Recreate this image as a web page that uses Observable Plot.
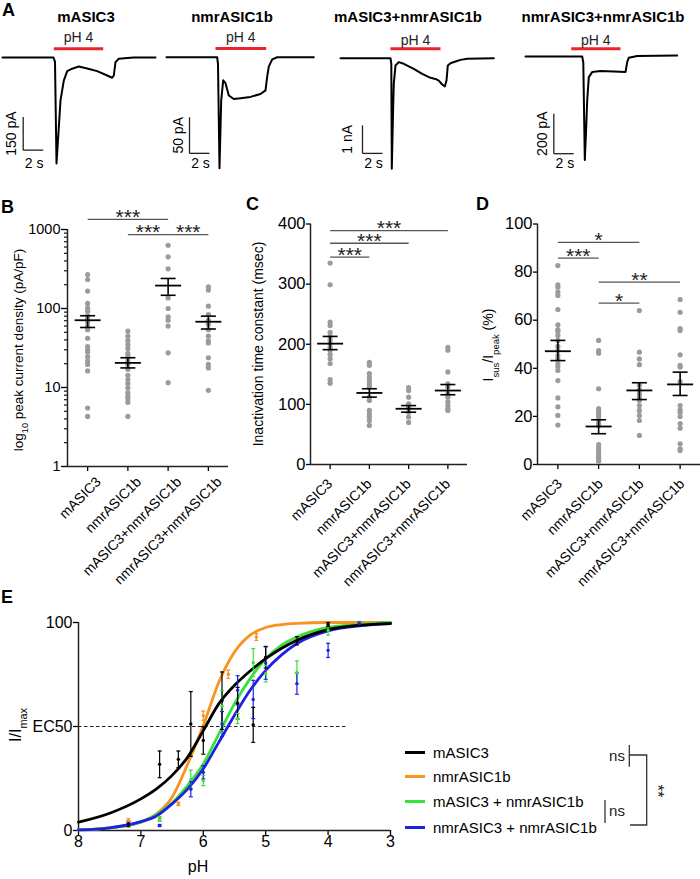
<!DOCTYPE html>
<html><head><meta charset="utf-8">
<script src="https://cdn.jsdelivr.net/npm/d3@7"></script>
<script src="https://cdn.jsdelivr.net/npm/@observablehq/plot@0.6"></script>
<style>
body{margin:0;background:#fff}
#fig{position:relative;width:700px;height:879px;background:#fff;font-family:"Liberation Sans",Arial,Helvetica,sans-serif;color:#000;overflow:hidden}
#fig svg{position:absolute;overflow:visible}
.lbl{position:absolute;line-height:1;white-space:nowrap}
</style></head><body><div id="fig"></div>
<script>
const FONT = '"Liberation Sans", Arial, Helvetica, sans-serif';
const groups = ["mASIC3", "nmrASIC1b", "mASIC3+nmrASIC1b", "nmrASIC3+nmrASIC1b"];

// ---------- Panel A: current traces [time (s), current] ----------
const traceTitles = ["mASIC3", "nmrASIC1b", "mASIC3+nmrASIC1b", "nmrASIC3+nmrASIC1b"];
const traceMASIC3 = [[0,0],[5.1,0],[5.25,-20],[5.4,-482],[5.63,-318],[5.8,-195],[6.13,-105],[6.47,-62],[6.97,-51],[7.63,-41],[8.47,-50],[9.47,-62],[10.47,-82],[10.97,-92],[11.13,-82],[11.3,-21],[11.63,-6],[13.1,0],[15.3,0]];
const traceNmrASIC1b = [[0,0],[5.07,0],[5.15,-10],[5.3,-154],[5.38,-110],[5.47,-60],[5.67,-32],[5.9,-36],[6.23,-53],[6.73,-58],[7.4,-57],[8.4,-55],[9.4,-51],[9.9,-46],[10.07,-27],[10.23,-13],[10.57,-3],[11.07,0],[14.73,0]];
const traceMix = [[0,0],[5.0,0],[5.08,-0.2],[5.13,-3.95],[5.25,-2.0],[5.33,-0.91],[5.5,-0.26],[5.83,-0.14],[6.33,-0.2],[7.33,-0.38],[8.17,-0.56],[9.0,-0.7],[9.5,-0.74],[9.83,-0.8],[10.17,-0.94],[10.43,-1.01],[10.6,-0.8],[10.73,-0.26],[11.0,-0.18],[11.5,-0.12],[12.0,-0.06],[12.67,-0.02],[15.33,0]];
const traceNmrMix = [[0,0],[5.67,0],[5.78,-30],[5.93,-517],[6.05,-380],[6.17,-220],[6.33,-103],[6.67,-78],[7.5,-73],[8.83,-75],[10.0,-78],[10.17,-28],[10.33,-6],[11.17,3],[15.17,5]];
const pulseWindows = [[5.13,10.07],[4.9,9.97],[5.0,10.0],[4.57,9.5]];
const scaleBarAmp = [150, 50, 1, 200];
const scaleBarUnit = ["pA", "pA", "nA", "pA"];
const scaleBarTime = 2;

// ---------- Panel B: peak current density (pA/pF) ----------
const peakMASIC3 = [269,233,166,116,101,92,81,74,67,60,54,42,33,30,28,24.5,21.6,19.6,16.2,5.5,4.3];
const peakNmrASIC1b = [51.6,44.6,39.4,35,31.2,27,24.9,22.2,19.6,17,14.3,12.6,11.2,9.9,8.6,7.7,7.2,6.5,4.3];
const peakMix = [632,451,318,136,100,78.5,71,60,27.5,11.5];
const peakNmrMix = [188,171,107,84,71,63,54,44.6,38.6,36.7,23.8,19.6,17.7,9.2];
const peakMean = [71, 20.5, 195, 68];
const peakSemLow = [57.5, 17.7, 147, 55];
const peakSemHigh = [81, 23.8, 240, 80];
const peakTicks = [1, 10, 100, 1000];
const peakSig = [
  {from: "mASIC3", to: "mASIC3+nmrASIC1b", y: 1340, label: "***"},
  {from: "nmrASIC1b", to: "mASIC3+nmrASIC1b", y: 860, label: "***"},
  {from: "mASIC3+nmrASIC1b", to: "nmrASIC3+nmrASIC1b", y: 860, label: "***"}
];

// ---------- Panel C: inactivation time constant (msec) ----------
const tauMASIC3 = [335,299,237,231,220,213,207,201,195,190,183,176,168,141,135];
const tauNmrASIC1b = [170,165,151,145,140,134,129,112,106.5,90,84,79,73,65];
const tauMix = [128,123,112,101,95,87,79,70];
const tauNmrMix = [195,190,154,134,129,118,112,104,98,93,90];
const tauMean = [201, 119, 92.7, 123];
const tauSemLow = [191, 112, 87, 116];
const tauSemHigh = [213, 126, 98, 133];
const tauTicks = [0, 100, 200, 300, 400];
const tauSig = [
  {from: "mASIC3", to: "nmrASIC3+nmrASIC1b", y: 389, label: "***"},
  {from: "mASIC3", to: "mASIC3+nmrASIC1b", y: 368, label: "***"},
  {from: "mASIC3", to: "nmrASIC1b", y: 345, label: "***"}
];

// ---------- Panel D: Isus/Ipeak (%) ----------
const ratioMASIC3 = [82.7,74.7,73.7,71.7,70.3,64.4,58.1,56.1,55.3,53.6,51.6,49.1,47.4,45.3,43.9,41.9,40.7,39.1,34.9,27.7,24,20.4,16.4];
const ratioNmrASIC1b = [51.6,47.4,46.3,31.5,23.2,22.2,21.5,20.7,19.7,18.3,17.2,16.2,8.3,6.9,5.5,4.4,3.3,2.4,1.4];
const ratioMix = [64,46.7,43.9,41.5,33,31,29.4,28,26.6,24.5,22.5,20.4,18.3,12.1];
const ratioNmrMix = [68.6,63.3,56.5,55.7,45.6,41.2,40.5,34.5,24.5,22.7,21.7,20,17,15.1,8.6,6.5,5.8];
const ratioMean = [47.1, 15.8, 30.8, 33.3];
const ratioSemLow = [43.2, 12.8, 27, 28.7];
const ratioSemHigh = [51.6, 18.6, 34, 38.4];
const ratioTicks = [0, 20, 40, 60, 80, 100];
const ratioSig = [
  {from: "mASIC3", to: "mASIC3+nmrASIC1b", y: 92.4, label: "*"},
  {from: "mASIC3", to: "nmrASIC1b", y: 85.8, label: "***"},
  {from: "nmrASIC1b", to: "nmrASIC3+nmrASIC1b", y: 75.8, label: "**"},
  {from: "nmrASIC1b", to: "mASIC3+nmrASIC1b", y: 67.1, label: "*"}
];

// ---------- Panel E: pH dose response ----------
const seriesNames = ["mASIC3", "nmrASIC1b", "mASIC3 + nmrASIC1b", "nmrASIC3 + nmrASIC1b"];
const seriesColors = ["#000000", "#f7931e", "#3ae03a", "#1e22e0"];
const pHFit = [8, 7.5, 7, 6.75, 6.5, 6.25, 6, 5.75, 5.5, 5.25, 5, 4.75, 4.5, 4, 3.5, 3];
const fitMASIC3 = [4.0, 8.3, 15.2, 20, 26.5, 35.3, 48, 61, 69.8, 76.7, 82.6, 87.5, 91.5, 96.6, 98.7, 99.5];
const fitNmrASIC1b = [0.3, 1.3, 4, 8, 16, 32, 50.5, 71.4, 85.8, 93.9, 97.6, 99, 99.6, 100, 100, 100];
const fitMix = [0.3, 1.3, 4, 7.7, 13.2, 21.7, 32, 46.5, 61, 73, 82.6, 89, 93, 97.6, 99, 100];
const fitNmrMix = [0.3, 1.3, 4.3, 7, 12.8, 20, 29.7, 42.5, 55.4, 67.4, 77, 84.3, 89.9, 96, 98.4, 99.5];
// [pH, mean, sem]
const obsMASIC3 = [[7.2,3.2,1.4],[6.7,31.8,6.4],[6.4,34.2,4],[6.2,51.2,15.6],[6.0,43.3,6.6],[5.7,62.4,13.8],[5.45,61.2,7.6],[5.2,50.8,8.4],[5.0,83.3,5.2],[4.5,91.2,2],[4.0,99,1]];
const obsNmrASIC1b = [[7.2,4.5,1.2],[6.7,5.6,1.1],[6.4,12.8,0.8],[6.0,55.2,2.2],[5.6,75.1,2],[5.15,93,1.6]];
const obsMix = [[6.7,5.5,1],[6.2,24.6,4.4],[6.0,24,2.4],[5.7,59.7,7.6],[5.45,53.8,2.4],[5.2,80.7,6.8],[5.0,75.4,4],[4.5,76,5.5],[4.0,96.3,2.4],[3.5,100,0.5]];
const obsNmrMix = [[7.2,3.2,0.8],[6.7,2.4,0.5],[6.2,19.8,3.6],[6.0,28,3.2],[5.7,51.2,6],[5.45,67.4,7],[5.2,63,9.2],[5.0,80.5,7.8],[4.5,70.6,5.1],[4.0,86.6,3.4],[3.5,99.8,0.5]];
const pHTicks = [8, 7, 6, 5, 4, 3];
const normTicks = [0, 50, 100];
const ec50Level = 50;

// ================= drawing =================
const fig = document.getElementById("fig");
const hbar = {draw(ctx, size) { const r = Math.sqrt(size / Math.PI); ctx.moveTo(-r, 0); ctx.lineTo(r, 0); }};
const baseStyle = {background: "transparent", overflow: "visible", fontFamily: FONT, fontSize: "14px", color: "black"};

function place(el, left, top) { el.style.left = left + "px"; el.style.top = top + "px"; fig.appendChild(el); return el; }
function addText(str, x, baseline, {size = 14, weight = "normal", center = false} = {}) {
  const d = document.createElement("div");
  d.className = "lbl"; d.textContent = str;
  d.style.fontSize = size + "px"; d.style.fontWeight = weight;
  if (center) d.style.transform = "translateX(-50%)";
  place(d, x, baseline - 0.8465 * size);
  return d;
}
function addRotLabel(svg, x, y, parts, size) {
  const t = d3.select(svg).append("text")
    .attr("transform", `translate(${x},${y}) rotate(-90)`)
    .attr("text-anchor", "middle").attr("dy", "0.35em")
    .attr("font-size", size).attr("font-family", FONT).attr("fill", "black");
  for (const [s, sub] of parts) {
    const ts = t.append("tspan").text(s);
    if (sub) ts.attr("baseline-shift", "sub").attr("font-size", size * 0.68);
  }
}

// ---- Panel A ----
const traces = [traceMASIC3, traceNmrASIC1b, traceMix, traceNmrMix];
const traceLayout = [
  {left: 0, width: 160, xd: [-0.2, 15.8], yd: [-559, 168], pulseY: 39.5, pHY: 88.6, barT: 2.07, barTop: -271, ampT: 0.9, timeY: -482, titleX: 86},
  {left: 160, width: 160, xd: [-0.6, 15.4], yd: [-171, 51], pulseY: 12.1, pHY: 27, barT: 2.3, barTop: -83.3, ampT: 1.2, timeY: -147, titleX: 232},
  {left: 335, width: 165, xd: [-0.5, 16.0], yd: [-4.368, 1.346], pulseY: 0.336, pHY: 0.632, barT: 2.2, barTop: -2.40, ampT: 0.7, timeY: -3.76, titleX: 408},
  {left: 515, width: 175, xd: [-1.0, 16.5], yd: [-620, 180], pulseY: 38.5, pHY: 80, barT: 2.83, barTop: -286, ampT: 1.7, timeY: -535, titleX: 603}
];
traces.forEach((data, k) => {
  const L = traceLayout[k], amp = scaleBarAmp[k], pulse = pulseWindows[k];
  const bar = [
    {x1: L.barT, x2: L.barT, y1: L.barTop, y2: L.barTop - amp},
    {x1: L.barT, x2: L.barT + scaleBarTime, y1: L.barTop - amp, y2: L.barTop - amp}
  ];
  const svg = Plot.plot({
    width: L.width, height: 160, margin: 0, style: baseStyle,
    x: {domain: L.xd, axis: null, label: null}, y: {domain: L.yd, axis: null, label: null},
    marks: [
      Plot.link(bar, {x1: "x1", x2: "x2", y1: "y1", y2: "y2", stroke: "#222", strokeWidth: 1.3}),
      Plot.text([`${amp} ${scaleBarUnit[k]}`], {text: d => d, x: () => L.ampT, y: () => L.barTop - amp / 2, rotate: -90, fontSize: 14}),
      Plot.text([`${scaleBarTime} s`], {text: d => d, x: () => L.barT + scaleBarTime / 2 + 0.1, y: () => L.timeY, fontSize: 14}),
      Plot.link([pulse], {x1: d => d[0], x2: d => d[1], y1: () => L.pulseY, y2: () => L.pulseY, stroke: "#e8242c", strokeWidth: 3}),
      Plot.text(["pH 4"], {text: d => d, x: () => (pulse[0] + pulse[1]) / 2, y: () => L.pHY, fontSize: 14, fill: "#222"}),
      Plot.line(data, {x: d => d[0], y: d => d[1], stroke: "black", strokeWidth: 2})
    ]
  });
  place(svg, L.left, 20);
  addText(traceTitles[k], L.titleX, 21.7, {size: 15, weight: "bold", center: true});
});

// ---- Panels B, C, D ----
function scatterPanel(o) {
  const dots = o.values.flatMap((arr, i) => arr.map(v => ({i, v})));
  const summ = groups.map((g, i) => ({i, m: o.mean[i], lo: o.lo[i], hi: o.hi[i]}));
  const sig = o.sig.map(s => ({a: groups.indexOf(s.from), b: groups.indexOf(s.to), y: s.y, label: s.label}));
  const marks = [];
  if (o.minor) marks.push(Plot.axisY({ticks: o.minor, tickSize: 3, tickFormat: () => "", strokeWidth: 1.1}));
  marks.push(
    Plot.axisY({ticks: o.yTicks, tickSize: o.tickSize, tickPadding: 1, fontSize: o.yFont, tickFormat: d => String(d), strokeWidth: 1.3}),
    Plot.axisX({ticks: [0, 1, 2, 3], tickSize: 5, tickFormat: () => "", strokeWidth: 1.3}),
    Plot.axisX({ticks: [0, 1, 2, 3], tickSize: 0, tickPadding: o.xPad, dx: o.xdx, tickRotate: -45, fontSize: 14, tickFormat: i => groups[i]}),
    Plot.ruleX([-0.5], {strokeWidth: 1.5, stroke: "#222"}),
    Plot.ruleY([o.yDomain[0]], {strokeWidth: 1.5, stroke: "#222"}),
    Plot.dot(dots, {x: "i", y: "v", r: 2.6, fill: "#9b9b9b"}),
    Plot.ruleX(summ, {x: "i", y1: "lo", y2: "hi", strokeWidth: 1.6, stroke: "black"}),
    Plot.dot(summ, {x: "i", y: "m", symbol: hbar, r: 13, stroke: "black", fill: "none", strokeWidth: 1.8}),
    Plot.dot(summ, {x: "i", y: "lo", symbol: hbar, r: 7.5, stroke: "black", fill: "none", strokeWidth: 1.6}),
    Plot.dot(summ, {x: "i", y: "hi", symbol: hbar, r: 7.5, stroke: "black", fill: "none", strokeWidth: 1.6}),
    Plot.link(sig, {x1: "a", x2: "b", y1: "y", y2: "y", stroke: "#555", strokeWidth: 1.3}),
    Plot.text(sig, {x: d => (d.a + d.b) / 2, y: "y", text: "label", fontSize: 21, dy: -2, fill: "#222"})
  );
  const svg = Plot.plot({
    width: o.width, height: 390, marginLeft: o.ml, marginRight: o.mr, marginTop: o.mt, marginBottom: o.mb,
    style: baseStyle,
    x: {domain: [-0.5, 3.5], label: null},
    y: {type: o.yType, domain: o.yDomain, label: null},
    marks
  });
  addRotLabel(svg, o.labelX, o.labelY, o.label, o.labelSize);
  return place(svg, o.left, 190);
}

const minorLog = [1, 10, 100].flatMap(d => [2, 3, 4, 5, 6, 7, 8, 9].map(k => d * k));
scatterPanel({
  left: 0, width: 240, ml: 67, mr: 12, mt: 39, mb: 114,
  yType: "log", yDomain: [1, 1000], yTicks: peakTicks, minor: minorLog, tickSize: 6, yFont: 14.5,
  values: [peakMASIC3, peakNmrASIC1b, peakMix, peakNmrMix], mean: peakMean, lo: peakSemLow, hi: peakSemHigh, sig: peakSig,
  xPad: 13, xdx: 11,
  label: [["log"], ["10", true], [" peak current density (pA/pF)"]], labelX: 18, labelY: 160, labelSize: 13.5
});
scatterPanel({
  left: 230, width: 240, ml: 80, mr: 3, mt: 33.5, mb: 116,
  yType: "linear", yDomain: [0, 400], yTicks: tauTicks, tickSize: 4, yFont: 16.5,
  values: [tauMASIC3, tauNmrASIC1b, tauMix, tauNmrMix], mean: tauMean, lo: tauSemLow, hi: tauSemHigh, sig: tauSig,
  xPad: 17, xdx: 0,
  label: [["Inactivation time constant (msec)"]], labelX: 28, labelY: 154, labelSize: 14
});
scatterPanel({
  left: 460, width: 240, ml: 77, mr: 0, mt: 33.5, mb: 116,
  yType: "linear", yDomain: [0, 100], yTicks: ratioTicks, tickSize: 4, yFont: 16.5,
  values: [ratioMASIC3, ratioNmrASIC1b, ratioMix, ratioNmrMix], mean: ratioMean, lo: ratioSemLow, hi: ratioSemHigh, sig: ratioSig,
  xPad: 17, xdx: 2,
  label: [["I"], ["sus", true], ["/I"], ["peak", true], [" (%)"]], labelX: 28, labelY: 155, labelSize: 14
});

// ---- Panel E ----
const fits = [fitMASIC3, fitNmrASIC1b, fitMix, fitNmrMix];
const obs = [obsMASIC3, obsNmrASIC1b, obsMix, obsNmrMix];
const drawOrder = [1, 2, 3, 0];
const fitRows = drawOrder.flatMap(k => pHFit.map((p, j) => ({s: seriesNames[k], pH: p, v: fits[k][j]})));
const obsRows = drawOrder.flatMap(k => obs[k].map(([pH, v, e]) => ({s: seriesNames[k], pH, v, lo: v - e, hi: v + e})));
const svgE = Plot.plot({
  width: 400, height: 289, marginLeft: 78, marginRight: 10, marginTop: 32, marginBottom: 49,
  style: baseStyle,
  x: {domain: [8, 3], label: null}, y: {domain: [0, 100], label: null},
  color: {domain: seriesNames, range: seriesColors},
  marks: [
    Plot.axisY({ticks: normTicks, tickSize: 5, tickPadding: 1, fontSize: 16, strokeWidth: 1.3, tickFormat: d => d === ec50Level ? "EC50" : String(d)}),
    Plot.axisX({ticks: pHTicks, tickSize: 5, tickPadding: 0, fontSize: 16, strokeWidth: 1.3, tickFormat: d => String(d)}),
    Plot.ruleX([8], {strokeWidth: 1.5, stroke: "#222"}),
    Plot.ruleY([0], {strokeWidth: 1.5, stroke: "#222"}),
    Plot.ruleY([ec50Level], {x1: () => 8, x2: () => 3.7, strokeDasharray: "3.5,2.5", strokeWidth: 1.1, stroke: "#222"}),
    Plot.line(fitRows, {x: "pH", y: "v", z: "s", stroke: "s", strokeWidth: 2.8, curve: "monotone-x"}),
    Plot.ruleX(obsRows, {x: "pH", y1: "lo", y2: "hi", stroke: "s", strokeWidth: 1.2}),
    Plot.dot(obsRows, {x: "pH", y: "lo", symbol: hbar, r: 2, stroke: "s", fill: "none", strokeWidth: 1.2}),
    Plot.dot(obsRows, {x: "pH", y: "hi", symbol: hbar, r: 2, stroke: "s", fill: "none", strokeWidth: 1.2}),
    Plot.dot(obsRows, {x: "pH", y: "v", r: 1.7, fill: "s"})
  ]
});
d3.select(svgE).append("text").attr("x", 198).attr("y", 276).attr("dy", "0.35em")
  .attr("text-anchor", "middle").attr("font-size", 16).attr("font-family", FONT).attr("fill", "black").text("pH");
addRotLabel(svgE, 15, 135, [["I/I"], ["max", true]], 16);
place(svgE, 0, 590);

// legend
const legendBase = [758, 782, 807, 833];
seriesNames.forEach((n, k) => {
  const sw = document.createElement("div");
  sw.style.position = "absolute"; sw.style.width = "20px"; sw.style.height = "3px"; sw.style.background = seriesColors[k];
  place(sw, 405, legendBase[k] - 7.5);
  addText(n, 433, legendBase[k], {size: 15});
});
// significance brackets
const br = d3.create("svg").attr("width", 110).attr("height", 110).node();
const g = d3.select(br).append("g").attr("stroke", "#333").attr("stroke-width", 1.3).attr("fill", "none");
g.append("path").attr("d", "M39.3,10V31.7 M39.3,20H56.7V90H40 M15,65V88");
const tx = d3.select(br).append("g").attr("font-family", FONT).attr("fill", "#222");
tx.append("text").attr("x", 27).attr("y", 25.7).attr("text-anchor", "middle").attr("font-size", 15).text("ns");
tx.append("text").attr("x", 27).attr("y", 81).attr("text-anchor", "middle").attr("font-size", 15).text("ns");
tx.append("text").attr("transform", "translate(62,56) rotate(90)").attr("text-anchor", "middle").attr("font-size", 17).text("**");
place(br, 590, 735);

// panel letters
addText("A", 2, 16, {size: 18, weight: "bold"});
addText("B", 1, 213, {size: 18, weight: "bold"});
addText("C", 246, 210, {size: 18, weight: "bold"});
addText("D", 476, 210.7, {size: 18, weight: "bold"});
addText("E", 1, 603, {size: 18, weight: "bold"});
</script></body></html>
